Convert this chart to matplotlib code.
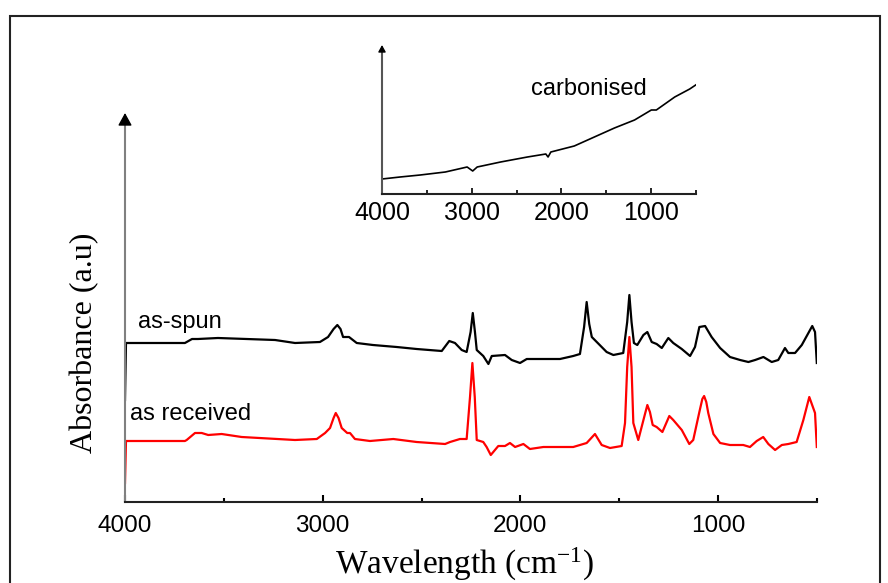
import matplotlib
matplotlib.use("Agg")
import matplotlib.pyplot as plt
from matplotlib.patches import Rectangle
from matplotlib.ticker import MultipleLocator

plt.rcParams['font.family'] = ['Liberation Sans', 'DejaVu Sans']
plt.rcParams['mathtext.fontset'] = 'custom'
plt.rcParams['mathtext.rm'] = 'Liberation Serif'
plt.rcParams['mathtext.it'] = 'Liberation Serif:italic'

# as-spun fibre (black)
spun_wn = [4000, 3995, 3697, 3661, 3631, 3530, 3241, 3140, 3014, 2973, 2945, 2926, 2910, 2897,
           2867, 2828, 2746, 2626, 2525, 2398, 2360, 2331, 2297, 2272, 2252, 2241, 2230, 2221,
           2188, 2162, 2145, 2078, 2044, 2002, 1968, 1901, 1800, 1733, 1699, 1678, 1665, 1652,
           1639, 1614, 1564, 1530, 1480, 1460, 1449, 1438, 1426, 1409, 1378, 1358, 1336, 1311,
           1285, 1252, 1227, 1184, 1142, 1117, 1095, 1066, 1033, 990, 940, 889, 847, 813, 771,
           729, 696, 662, 645, 611, 577, 524, 510, 501]
spun_abs = [1.02, 1.59, 1.59, 1.63, 1.63, 1.64, 1.62, 1.59, 1.60, 1.65, 1.73, 1.77, 1.73, 1.65,
            1.65, 1.59, 1.57, 1.55, 1.53, 1.51, 1.61, 1.59, 1.52, 1.50, 1.70, 1.89, 1.70, 1.52,
            1.46, 1.38, 1.46, 1.47, 1.42, 1.39, 1.43, 1.43, 1.43, 1.46, 1.48, 1.75, 2.00, 1.78,
            1.65, 1.60, 1.50, 1.47, 1.49, 1.80, 2.07, 1.80, 1.59, 1.57, 1.67, 1.70, 1.60, 1.58,
            1.54, 1.64, 1.59, 1.53, 1.46, 1.55, 1.75, 1.76, 1.65, 1.54, 1.45, 1.42, 1.40, 1.42,
            1.45, 1.40, 1.42, 1.54, 1.49, 1.49, 1.57, 1.76, 1.70, 1.39]

# as received precursor (red)
recv_wn = [4000, 3995, 3697, 3688, 3646, 3612, 3579, 3511, 3410, 3140, 3030, 2988, 2963, 2945,
           2934, 2920, 2904, 2876, 2862, 2837, 2761, 2643, 2525, 2381, 2356, 2306, 2272, 2255,
           2243, 2231, 2221, 2188, 2171, 2150, 2112, 2078, 2053, 2027, 1985, 1952, 1884, 1733,
           1665, 1623, 1589, 1547, 1488, 1471, 1460, 1449, 1438, 1429, 1404, 1370, 1358, 1345,
           1331, 1311, 1282, 1247, 1227, 1184, 1146, 1126, 1095, 1080, 1071, 1060, 1050, 1024,
           990, 940, 873, 839, 805, 772, 746, 712, 678, 645, 603, 569, 539, 510, 501]
recv_abs = [0.19, 0.61, 0.61, 0.62, 0.69, 0.69, 0.67, 0.68, 0.65, 0.62, 0.63, 0.69, 0.74, 0.84,
            0.89, 0.84, 0.74, 0.69, 0.69, 0.63, 0.61, 0.63, 0.60, 0.58, 0.60, 0.63, 0.63, 1.05,
            1.39, 1.05, 0.62, 0.60, 0.55, 0.47, 0.56, 0.56, 0.59, 0.55, 0.58, 0.53, 0.55, 0.55,
            0.59, 0.68, 0.57, 0.54, 0.56, 0.79, 1.35, 1.65, 1.35, 0.79, 0.62, 0.88, 0.97, 0.90,
            0.77, 0.75, 0.70, 0.86, 0.82, 0.72, 0.58, 0.62, 0.90, 1.03, 1.06, 1.00, 0.89, 0.68,
            0.59, 0.57, 0.57, 0.55, 0.61, 0.65, 0.58, 0.52, 0.57, 0.58, 0.60, 0.82, 1.05, 0.89,
            0.55]

# carbonised fibre (inset)
carb_wn = [4000, 3798, 3574, 3294, 3051, 2989, 2939, 2678, 2379, 2174, 2149, 2118, 1857, 1633,
           1409, 1185, 998, 942, 737, 570, 487]
carb_abs = [0.15, 0.17, 0.19, 0.22, 0.27, 0.23, 0.27, 0.32, 0.37, 0.40, 0.37, 0.42, 0.48, 0.57,
            0.66, 0.74, 0.84, 0.84, 0.97, 1.05, 1.10]

major_ticks = [4000, 3000, 2000, 1000]

W, H = 888, 583
fig = plt.figure(figsize=(W / 100, H / 100), dpi=100)

# outer frame
fig.patches.append(Rectangle((10 / W, -0.1), 870 / W, 1.1 - 16 / H, transform=fig.transFigure,
                             fill=False, lw=1.5, ec='#222222'))


def arrow_axis(ax, top, head_len, scale, spine_col):
    for s in ['top', 'right']:
        ax.spines[s].set_visible(False)
    ax.spines['left'].set_color(spine_col)
    ax.spines['left'].set_linewidth(1.5)
    ax.spines['left'].set_bounds(0, top - head_len)
    ax.spines['bottom'].set_linewidth(1.5)
    ax.spines['bottom'].set_color('#222222')
    ax.annotate('', xy=(0, top), xytext=(0, top - head_len), xycoords=('axes fraction', 'data'),
                arrowprops=dict(arrowstyle='-|>,head_length=0.4,head_width=0.22', color='black',
                                lw=1, shrinkA=0, shrinkB=0, mutation_scale=scale),
                annotation_clip=False)
    ax.set_yticks([])


# main axes
ax = fig.add_axes([125 / W, 81 / H, 692 / W, 389 / H])
ax.plot(spun_wn, spun_abs, color='black', lw=1.6)
ax.plot(recv_wn, recv_abs, color='red', lw=1.6)
ax.set_xlim(4000, 500)
ax.set_ylim(0, 3.89)
arrow_axis(ax, 3.89, 0.10, 19, '#808080')
ax.xaxis.set_minor_locator(MultipleLocator(500))
ax.set_xticks(major_ticks)
ax.tick_params(axis='x', which='major', direction='in', length=5, width=1.5, labelsize=17.5, pad=9)
ax.tick_params(axis='x', which='minor', direction='in', length=3, width=1.5)
ax.set_xlabel('Wavelength (cm$^{-1}$)', family='Liberation Serif', fontsize=24)
ax.xaxis.set_label_coords(0.49, -0.112)
ax.set_ylabel('Absorbance (a.u)', family='Liberation Serif', fontsize=23)
ax.yaxis.set_label_coords(-0.037, 0.41)
ax.text(3934, 1.80, 'as-spun', fontsize=17, va='center')
ax.text(3975, 0.88, 'as received', fontsize=17, va='center')

# inset
ins = fig.add_axes([382 / W, 389 / H, 314 / W, 149 / H])
ins.plot(carb_wn, carb_abs, color='black', lw=1.2)
ins.set_xlim(4000, 500)
ins.set_ylim(0, 1.49)
arrow_axis(ins, 1.49, 0.05, 10, '#555555')
ins.xaxis.set_minor_locator(MultipleLocator(500))
ins.set_xticks(major_ticks)
ins.tick_params(axis='x', which='major', direction='in', length=4, width=1.2, labelsize=18, pad=5)
ins.tick_params(axis='x', which='minor', direction='in', length=3, width=1.2)
ins.text(2342, 1.05, 'carbonised', fontsize=17, va='center')

fig.savefig('out.png', dpi=100)
